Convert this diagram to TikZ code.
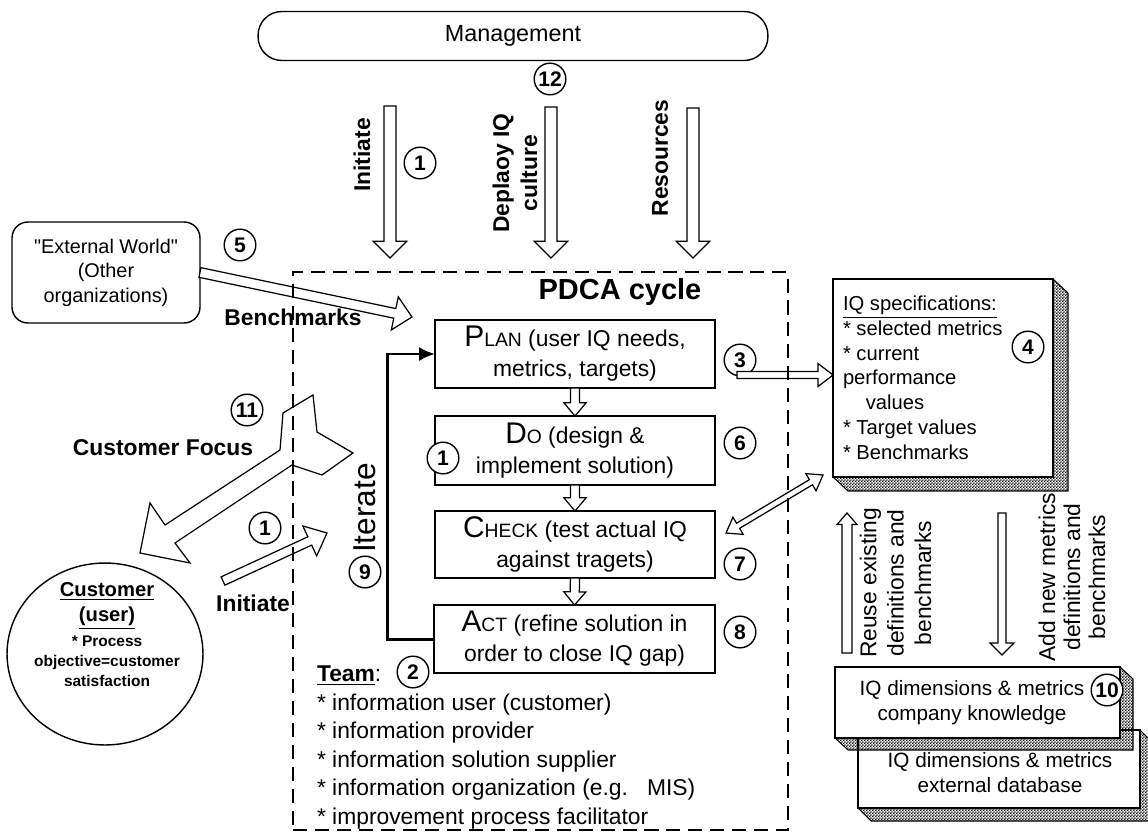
\documentclass[tikz,border=0pt]{standalone}
\usepackage{fontspec}
\setmainfont{Liberation Sans}
% same face without the TeX quote mapping, for straight quotation marks
\newfontfamily\plainquote{Liberation Sans}
\usetikzlibrary{calc,shapes.geometric,arrows.meta,patterns}

% fine checkerboard used on the raised box edges
\pgfdeclarepatternformonly{finechecker}{\pgfqpoint{0pt}{0pt}}{\pgfqpoint{1.8pt}{1.8pt}}{\pgfqpoint{1.8pt}{1.8pt}}{%
  \pgfpathrectangle{\pgfqpoint{0pt}{0pt}}{\pgfqpoint{0.9pt}{0.9pt}}%
  \pgfpathrectangle{\pgfqpoint{0.9pt}{0.9pt}}{\pgfqpoint{0.9pt}{0.9pt}}%
  \pgfusepath{fill}}

% one drawing unit is one pixel of a 1148 x 838 canvas
\newcommand\pxu{0.569pt}

% hollow block arrow: [style]{from}{to}{shaft half width}{head half width}{head length}
\newcommand\blockarrow[6][]{%
  \path (#2) coordinate (baA) (#3) coordinate (baB);
  \coordinate (baH) at ($(baB)!#6!(baA)$);
  \draw[blockarrowstyle,#1]
    ($(baA)!#4!90:(baB)$) -- ($(baH)!#4!90:(baB)$) -- ($(baH)!#5!90:(baB)$)
    -- (baB) -- ($(baH)!#5!-90:(baB)$) -- ($(baH)!#4!-90:(baB)$)
    -- ($(baA)!#4!-90:(baB)$) -- cycle;}

% hollow block arrow with a head at both ends
\newcommand\dblockarrow[6][]{%
  \path (#2) coordinate (dbA) (#3) coordinate (dbB);
  \coordinate (dbH) at ($(dbB)!#6!(dbA)$);
  \coordinate (dbG) at ($(dbA)!#6!(dbB)$);
  \draw[blockarrowstyle,#1]
    (dbA) -- ($(dbG)!#5!90:(dbB)$) -- ($(dbG)!#4!90:(dbB)$)
    -- ($(dbH)!#4!90:(dbB)$) -- ($(dbH)!#5!90:(dbB)$) -- (dbB)
    -- ($(dbH)!#5!-90:(dbB)$) -- ($(dbH)!#4!-90:(dbB)$)
    -- ($(dbG)!#4!-90:(dbB)$) -- ($(dbG)!#5!-90:(dbB)$) -- cycle;}

% raised (extruded) edge along the right and bottom of a box node: {node}{dx}{dy}
\newcommand\bevel[3]{%
  \path (#1.north east) coordinate (bvNE) (#1.south east) coordinate (bvSE)
        (#1.south west) coordinate (bvSW);
  \path (bvNE) ++(#2,#3) coordinate (bvNEo);
  \path (bvSE) ++(#2,#3) coordinate (bvSEo);
  \path (bvSW) ++(#2,#3) coordinate (bvSWo);
  \path[bevelfill] (bvNE) -- (bvNEo) -- (bvSEo) -- (bvSWo) -- (bvSW) -- (bvSE) -- cycle;
  \draw[bevelline] (bvNE) -- (bvNEo) -- (bvSEo) -- (bvSWo) -- (bvSW) -- (bvSE) -- cycle;}

\begin{document}
\begin{tikzpicture}[x=0.02cm,y=-0.02cm,
  every node/.style={inner sep=0pt, outer sep=0pt},
  box/.style={draw, line width=0.8pt, fill=white, align=center,
    font=\fontsize{13}{17}\selectfont},
  num/.style={draw, circle, line width=0.8pt, minimum size=18pt, fill=white,
    font=\bfseries\fontsize{12}{12}\selectfont},
  blockarrowstyle/.style={draw, fill=white, line width=0.7pt, line join=miter},
  lbl/.style={font=\bfseries\fontsize{13}{13}\selectfont},
  bevelfill/.style={pattern=finechecker, pattern color=black},
  bevelline/.style={draw=black, line width=0.6pt, line join=miter},
]
\useasboundingbox (0,0) rectangle (1148,838);
\clip (0,0) rectangle (1148,838);

% ---------- management ----------
\node[box, rounded corners=13.5pt, minimum width=510*\pxu, minimum height=49*\pxu,
  font=\fontsize{13.3}{16}\selectfont] (mgmt) at (513,36) {Management};
\node[num] (c12) at (550,79) {12};

\coordinate (iniTop) at (390,106);   \coordinate (iniTip) at (390,258);
\coordinate (depTop) at (551,107);   \coordinate (depTip) at (551,258);
\coordinate (resTop) at (693,108);   \coordinate (resTip) at (693,258);
\blockarrow{iniTop}{iniTip}{3.4pt}{9.6pt}{9.6pt}
\blockarrow{depTop}{depTip}{3.4pt}{9.6pt}{9.6pt}
\blockarrow{resTop}{resTip}{3.4pt}{9.6pt}{9.6pt}
\node[lbl, rotate=90] (iniTxt) at (362,155) {Initiate};
\node[lbl, rotate=90, align=center, font=\bfseries\fontsize{13}{16}\selectfont]
  (depTxt) at (515,173) {Deplaoy IQ\\culture};
\node[lbl, rotate=90] (resTxt) at (660,158) {Resources};
\node[num] (c1a) at (420,163) {1};

% ---------- external world ----------
\node[draw, line width=0.8pt, fill=white, rounded corners=9pt, align=center,
  minimum width=188*\pxu, minimum height=101*\pxu,
  font=\fontsize{11.3}{13.9}\selectfont] (ext) at (106,272.5)
  {{\plainquote"}External World{\plainquote"}\\(Other\\organizations)};
\node[num] (c5) at (240,245) {5};
\coordinate (bmTip) at (412,317);
\blockarrow{ext.east}{bmTip}{2.8pt}{9.6pt}{10pt}
\node[lbl] (bmTxt) at (293,317) {Benchmarks};

% ---------- PDCA cycle ----------
\node[font=\bfseries\fontsize{16.5}{18}\selectfont] (pdcaTxt) at (620,292) {PDCA cycle};
\node[box, minimum width=280*\pxu, minimum height=68*\pxu] (plan) at (575,354)
  {{\fontsize{17}{17}\selectfont P}{\fontsize{11}{11}\selectfont LAN} (user IQ needs,\\metrics, targets)};
\node[box, minimum width=280*\pxu, minimum height=69*\pxu] (do) at (575,450.5)
  {{\fontsize{17}{17}\selectfont D}{\fontsize{11}{11}\selectfont O} (design \&\\implement solution)};
\node[box, minimum width=280*\pxu, minimum height=67*\pxu] (check) at (575,544.5)
  {{\fontsize{17}{17}\selectfont C}{\fontsize{11}{11}\selectfont HECK} (test actual IQ\\against tragets)};
\node[box, minimum width=281*\pxu, minimum height=68*\pxu] (act) at (574.5,639)
  {{\fontsize{17}{17}\selectfont A}{\fontsize{11}{11}\selectfont CT} (refine solution in\\order to close IQ gap)};
\blockarrow{plan.south}{do.north}{2.6pt}{6.3pt}{7.5pt}
\blockarrow{do.south}{check.north}{2.6pt}{6.3pt}{7.5pt}
\blockarrow{check.south}{act.north}{2.6pt}{6.3pt}{7.5pt}

% iterate loop back to PLAN
\draw[line width=1.7pt, -{Latex[length=9pt,width=8pt]}]
  (act.west) -- ++(-47,0) |- (plan.west);
\node[rotate=90, font=\fontsize{18}{18}\selectfont] (itTxt) at (365,508) {Iterate};
\node[num] (c9) at (365,572) {9};
\node[num] (c1b) at (443,458) {1};
\node[num] (c3) at (740,360) {3};
\node[num] (c6) at (740,443) {6};
\node[num] (c7) at (740,564) {7};
\node[num] (c8) at (740,632) {8};

% team
\node[anchor=north west, align=left, font=\fontsize{13}{16.2}\selectfont] (team) at (317,666)
  {\textbf{\underline{Team}}:\\* information user (customer)\\* information provider\\* information solution supplier\\* information organization (e.g.\ \ \ MIS)\\* improvement process facilitator};
\node[num] (c2) at (413,672) {2};

% ---------- IQ specifications ----------
\node[draw, line width=0.8pt, fill=white, minimum width=220*\pxu, minimum height=198*\pxu]
  (spec) at (943,378) {};
\bevel{spec}{15}{14}
\node[anchor=north west, align=left, font=\fontsize{11.5}{14.1}\selectfont] (specTxt) at (843,296)
  {\underline{IQ specifications:}\\* selected metrics\\* current\\performance\\\hspace*{13pt}values\\* Target values\\* Benchmarks};
\node[num] (c4) at (1028,347) {4};
\coordinate (s3a) at (737,375);
\blockarrow{s3a}{spec.west |- s3a}{2pt}{6.5pt}{8.5pt}
\coordinate (chkEnd) at (726,533);
\coordinate (specEnd) at (823,475);
\dblockarrow{chkEnd}{specEnd}{1.7pt}{5.7pt}{8pt}

% ---------- knowledge bases ----------
\node[draw, line width=0.8pt, fill=white, minimum width=282*\pxu, minimum height=78*\pxu]
  (extdb) at (999,769) {};
\bevel{extdb}{13}{13}
\node[align=center, font=\fontsize{11.8}{14.2}\selectfont] (extdbTxt) at (1000,773)
  {IQ dimensions \& metrics\\external database};
\node[draw, line width=0.8pt, fill=white, minimum width=285*\pxu, minimum height=71*\pxu]
  (ckb) at (977.5,702.5) {};
\bevel{ckb}{13}{12}
\node[align=center, font=\fontsize{11.8}{14.2}\selectfont] (ckbTxt) at (972,703)
  {IQ dimensions \& metrics\\company knowledge};
\node[num] (c10) at (1107,690) {10};

\coordinate (reuseBot) at (847,653);  \coordinate (reuseTop) at (847,513);
\coordinate (addTop) at (1002,513);   \coordinate (addBot) at (1002,655);
\blockarrow{reuseBot}{reuseTop}{2.8pt}{5.7pt}{6.6pt}
\blockarrow{addTop}{addBot}{2.3pt}{6.8pt}{6.8pt}
\node[rotate=90, align=center, font=\fontsize{13}{15.6}\selectfont] (reuseTxt) at (895.5,583)
  {Reuse existing\\definitions and\\benchmarks};
\node[rotate=90, align=center, font=\fontsize{13}{14.2}\selectfont] (addTxt) at (1072,577)
  {Add new metrics\\definitions and\\benchmarks};

% ---------- customer ----------
\node[draw, ellipse, line width=0.8pt, fill=white, minimum width=196*\pxu, minimum height=182*\pxu]
  (cust) at (105,654) {};
\node[align=center, font=\bfseries\fontsize{11.5}{14.2}\selectfont] (custTitle) at (107,606)
  {\underline{Customer}\\\underline{(user)}};
\node[align=center, font=\bfseries\fontsize{8.8}{11.3}\selectfont] (custNote) at (107,661)
  {* Process\\objective=customer\\satisfaction};

% customer focus arrow
\draw[blockarrowstyle] (283,413) -- (280,450) -- (165,525) -- (150,503) -- (140,553)
  -- (190,563) -- (175,543) -- (292,465) -- (322,475) -- (353,453) -- (317,432)
  -- (313,395) -- cycle;
\node[lbl] (cfTxt) at (163,448) {Customer Focus};
\node[num] (c11) at (247,410) {11};

\coordinate (custArrS) at (223,581);
\coordinate (custArrT) at (327,533);
\blockarrow{custArrS}{custArrT}{2.6pt}{9.4pt}{10.8pt}
\node[num] (c1c) at (265,528) {1};
\node[lbl] (ciTxt) at (253,603) {Initiate};

% ---------- dashed PDCA frame ----------
\node[draw, line width=0.9pt, dash pattern=on 8pt off 4.5pt,
  minimum width=495*\pxu, minimum height=558*\pxu] (frame) at (540.5,551) {};
\end{tikzpicture}
\end{document}
